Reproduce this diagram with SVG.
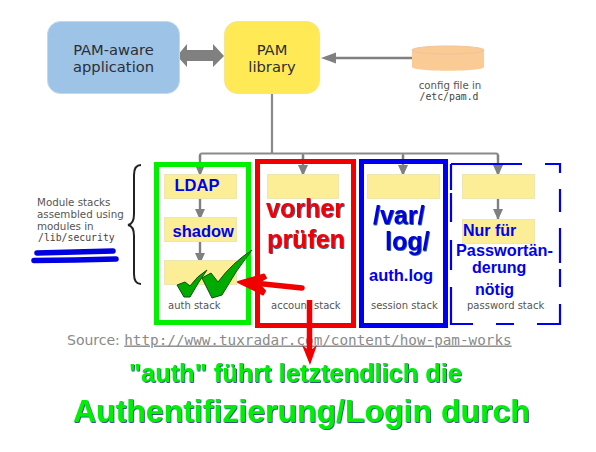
<svg xmlns="http://www.w3.org/2000/svg" width="596" height="452" viewBox="0 0 596 452">
<defs>
<marker id="ah" markerUnits="userSpaceOnUse" markerWidth="12" markerHeight="12" refX="11" refY="6" orient="auto"><path d="M0 1 L11 6 L0 11 Z" fill="#808080"/></marker>
<filter id="shade" x="-5%" y="-10%" width="110%" height="125%"><feDropShadow dx="0.800" dy="0.800" stdDeviation="0.300" flood-color="#003060"/></filter>
</defs>
<style>
text{font-family:"DejaVu Sans",sans-serif}
.main{font-size:14.7px;fill:#2b2f36;text-anchor:middle}
.small{font-size:10px;fill:#555}
.mono{font-family:"DejaVu Sans Mono","Liberation Mono",monospace;font-size:9.8px;fill:#444}
.mod{fill:#fbee96;stroke:#ece6b0;stroke-width:1}
.conn{fill:none;stroke:#8a8a8a;stroke-width:2.2}
.flow{fill:none;stroke:#808080;stroke-width:2.4;marker-end:url(#ah)}
.note{font-family:"Liberation Sans",Arial,sans-serif;font-weight:bold;fill:#0000f0}
.big{font-family:"Liberation Sans",Arial,sans-serif;font-weight:bold;filter:url(#shade)}
.frame{fill:none;stroke-width:5}
.check{fill:#00ab00;stroke:#0b4f0b;stroke-width:1}
</style>
<rect width="596" height="452" fill="#fff"/>
<g id="connectors">
<path class="conn" d="M272 93V153.500M200 160V155.500Q200 153.500 202 153.500H496Q498 153.500 498 155.500V160M303 153.500V160M403 153.500V160"/>
<path class="flow" d="M200 155V176"/>
<path class="flow" d="M303 155V176"/>
<path class="flow" d="M403 155V176"/>
<path class="flow" d="M498 155V176"/>
<path class="flow" d="M200 198V220"/>
<path class="flow" d="M200 242V264"/>
<path class="flow" d="M498 198V220"/>
<path d="M177 56 L187 44 V50 H213 V44 L224 56 L213 67 V61 H187 V67 Z" fill="#808080"/>
<path d="M414 58H327" fill="none" stroke="#808080" stroke-width="2.500"/>
<path d="M321 58L336 52.500V63.500Z" fill="#808080"/>
</g>
<g id="pam-aware"><rect x="47.500" y="21.500" width="132" height="72" rx="13" fill="#9dc3e6" stroke="#c4d8ea"/>
<text class="main" x="113.500" y="55">PAM-aware</text><text class="main" x="113.500" y="72">application</text></g>
<g id="pam-library"><rect x="224.500" y="21.500" width="95" height="72" rx="13" fill="#ffe955" stroke="#f2e68e"/>
<text class="main" x="272" y="55">PAM</text><text class="main" x="272" y="72">library</text></g>
<g id="config-file"><path d="M412 49 V67 C412 72 484 72 484 67 V49 Z" fill="#fbcb96"/><ellipse cx="448" cy="50" rx="36" ry="4" fill="#fbcb96" stroke="#f0c498" stroke-width="1"/>
<text class="small" x="450" y="89" text-anchor="middle" style="font-size:10.2px">config file in</text><text class="mono" x="449" y="99.500" text-anchor="middle">/etc/pam.d</text></g>
<g id="module-note">
<text class="small" x="37" y="206" style="font-size:10.300px">Module stacks</text><text class="small" x="37" y="218" style="font-size:10.300px">assembled using</text><text class="small" x="37" y="229.500" style="font-size:10.300px">modules in</text><text class="mono" x="38" y="241">/lib/security</text>
<path d="M141 165 Q134 165 134 175 V214 Q134 224 128 225 Q134 226 134 236 V274 Q134 284 141 284" fill="none" stroke="#222" stroke-width="2"/>
<path d="M37 253 L75 252 L113 251" fill="none" stroke="#0000e0" stroke-width="5.500" stroke-linecap="round"/>
<path d="M34 260.500 L75 260 L116 259" fill="none" stroke="#0000e0" stroke-width="5.500" stroke-linecap="round"/>
</g>
<g id="auth-stack">
<rect class="mod" x="164.500" y="174.500" width="72" height="24"/><rect class="mod" x="164.500" y="217.500" width="72" height="24"/><rect class="mod" x="164.500" y="260.500" width="72" height="24"/>
<text class="note" x="174.500" y="191" font-size="16.500">LDAP</text><text class="note" x="172.500" y="237" font-size="16.500">shadow</text>
<text class="small" x="168" y="309">auth stack</text>
<rect class="frame" x="156.500" y="164.500" width="92" height="158" stroke="#00f000"/>
<path class="check" d="M177 285 L185 282 L190 286 Q197 276 207 270 Q199 281 190 297 L184 297 Z"/>
<path class="check" d="M202 278 L211 273 L218 282 Q232 263 252 250 Q236 270 222 295 L212 298 Z"/>
</g>
<g id="account-stack">
<rect class="mod" x="267.500" y="174.500" width="71" height="24"/>
<text class="small" x="271" y="309">account stack</text>
<text class="big" x="305" y="217" font-size="25" fill="#f00000" text-anchor="middle">vorher</text>
<text class="big" x="306" y="248" font-size="25" fill="#f00000" text-anchor="middle">prüfen</text>
<rect class="frame" x="257.500" y="161.500" width="96" height="164" stroke="#f00000"/>
</g>
<g id="session-stack">
<rect class="mod" x="367.500" y="174.500" width="72" height="24"/>
<text class="small" x="371" y="309">session stack</text>
<text class="big" x="373" y="224" font-size="25" fill="#0000e0">/var/</text>
<text class="big" x="385" y="250" font-size="25" fill="#0000e0">log/</text>
<text class="note" x="369" y="281" font-size="16.500">auth.log</text>
<rect class="frame" x="361.500" y="161.500" width="84" height="164" stroke="#0000f0"/>
</g>
<g id="password-stack">
<rect class="mod" x="462.500" y="174.500" width="72" height="24"/><rect class="mod" x="462.500" y="219.500" width="72" height="24"/>
<text class="note" x="463" y="236" font-size="16">Nur für</text>
<text class="note" x="456" y="256" font-size="16.300">Passwortän-</text>
<text class="note" x="472" y="273" font-size="16">derung</text>
<text class="note" x="475" y="295" font-size="16">nötig</text>
<text class="small" x="467" y="309">password stack</text>
<path d="M451 164H522M545 164H560V173M560 189V212M560 228V263M560 269V287M560 304V324H537M514 324H496M473 324H451V287M451 270V240M451 222V193M451 190V164" fill="none" stroke="#0000f0" stroke-width="2.200"/>
</g>
<g id="source"><text x="67" y="344.500" font-size="14" fill="#8a8a8a">Source: <tspan font-family="DejaVu Sans Mono,monospace" font-size="14.300" text-decoration="underline">http://www.tuxradar.com/content/how-pam-works</tspan></text></g>
<g id="red-arrows">
<path d="M302 288 L250 282.500" fill="none" stroke="#f00000" stroke-width="5.500" stroke-linecap="round"/>
<path d="M238 282 L264 274.500 L266 278 L258 283 L265 291 L263 294.500 Z" fill="#f00000" stroke="#f00000" stroke-width="2" stroke-linejoin="round"/>
<path d="M309.500 300 V352" fill="none" stroke="#f00000" stroke-width="5.500"/>
<path d="M310 365 L302 345 L310 351 L317 345 Z" fill="#f00000"/>
</g>
<g id="caption">
<text class="big" x="129" y="382" font-size="25.400" fill="#00f000">"auth" führt letztendlich die</text>
<text class="big" x="73" y="421.500" font-size="32" fill="#00f000">Authentifizierung/Login durch</text>
</g>
</svg>
